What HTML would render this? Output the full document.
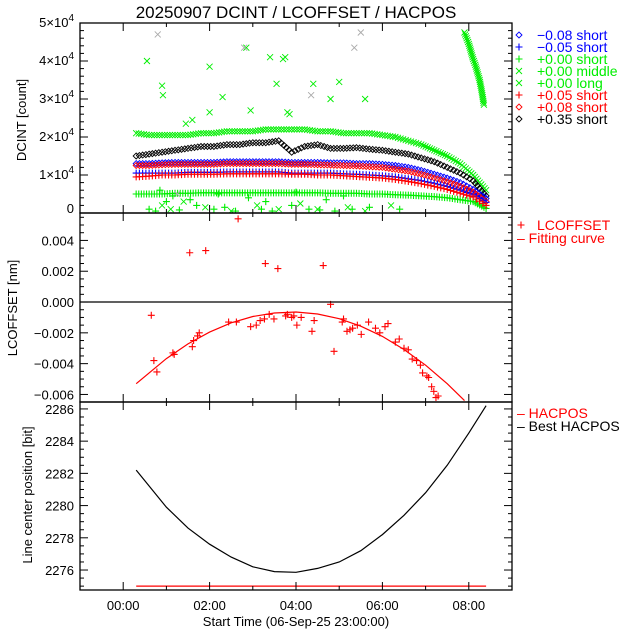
<!DOCTYPE html>
<html><head><meta charset="utf-8"><style>
html,body{margin:0;padding:0;background:#fff;}
svg{display:block;font-family:"Liberation Sans",sans-serif;}
</style></head><body>
<svg id="chart" width="640" height="640" viewBox="0 0 640 640" xmlns="http://www.w3.org/2000/svg">
<rect width="640" height="640" fill="#fff"/>
<text x="296" y="18" font-size="17" text-anchor="middle">20250907 DCINT / LCOFFSET / HACPOS</text>
<g id="g"></g>
</svg>
<script>
// ---------- data (hours since start; values) ----------
const bandTimes = [0.3,0.6,0.9,1.2,1.5,1.8,2.1,2.4,2.7,3.0,3.3,3.6,3.9,4.2,4.5,4.8,5.1,5.4,5.7,6.0,6.3,6.6,6.9,7.2,7.5,7.8,8.1,8.4];
const greenMiddle = [2.1,2.05,2.05,2.05,2.05,2.1,2.1,2.15,2.15,2.15,2.2,2.2,2.2,2.2,2.15,2.15,2.1,2.1,2.1,2.05,2.0,1.9,1.8,1.65,1.5,1.3,1.0,0.6];
const blackShort = [1.5,1.55,1.6,1.65,1.7,1.75,1.75,1.8,1.8,1.85,1.85,1.9,1.6,1.75,1.8,1.7,1.7,1.72,1.68,1.65,1.6,1.55,1.45,1.35,1.2,1.05,0.85,0.45];
const blueDiamond = [1.3,1.3,1.32,1.33,1.33,1.33,1.33,1.35,1.35,1.35,1.35,1.35,1.33,1.33,1.33,1.32,1.32,1.3,1.3,1.28,1.25,1.2,1.12,1.02,0.92,0.8,0.62,0.38];
const redDiamond = [1.25,1.25,1.27,1.28,1.28,1.28,1.28,1.3,1.3,1.3,1.3,1.3,1.28,1.28,1.27,1.26,1.25,1.24,1.22,1.2,1.15,1.1,1.02,0.92,0.82,0.7,0.55,0.3];
const bluePlus = [1.05,1.05,1.05,1.05,1.07,1.07,1.07,1.08,1.08,1.08,1.08,1.08,1.05,1.05,1.05,1.05,1.03,1.02,1.0,0.98,0.95,0.9,0.85,0.78,0.7,0.6,0.48,0.28];
const redPlus = [0.95,0.97,1.0,1.0,1.02,1.02,1.02,1.03,1.03,1.03,1.03,1.03,1.02,1.02,1.0,1.0,0.98,0.96,0.94,0.92,0.88,0.83,0.77,0.7,0.62,0.52,0.42,0.2];
const greenPlus = [0.5,0.5,0.5,0.52,0.52,0.53,0.53,0.53,0.53,0.53,0.53,0.53,0.53,0.53,0.53,0.52,0.52,0.52,0.5,0.5,0.48,0.47,0.45,0.43,0.4,0.35,0.3,0.12];
const spikeTimes = [7.9,7.95,8.0,8.05,8.1,8.15,8.2,8.25,8.3,8.35];
const spikeValues = [4.75,4.6,4.45,4.25,4.05,3.9,3.7,3.5,3.2,2.85];
const outTimes = [0.55,0.9,0.92,1.45,1.6,2.0,2.0,2.3,2.85,2.95,3.4,3.55,3.7,3.75,3.8,3.85,4.4,4.8,5.0,5.6,0.9,1.1,1.4,1.9,2.5,3.1,3.6,4.1,4.5,5.2,5.6,6.2];
const outValues = [4.0,3.35,3.1,2.35,2.45,3.85,2.65,3.05,4.35,2.7,4.1,3.4,4.05,4.1,2.65,2.6,3.4,3.0,3.45,3.0,0.2,0.1,0.3,0.15,0.05,0.2,0.1,0.25,0.1,0.15,0.05,0.2];
const grayTimes = [0.8,2.8,4.35,5.5,5.35,1.25];
const grayValues = [4.7,4.35,3.1,4.75,4.35,0.5];
const lowTimes = [0.6,0.75,1.0,1.3,1.7,2.1,2.35,2.6,3.2,3.45,3.9,4.3,4.55,4.9,5.3,5.7,6.4,0.85,1.15,1.55,2.2,2.9,3.3,4.0,4.7,5.1];
const lowValues = [0.1,0.05,0.3,0.08,0.2,0.1,0.15,0.05,0.1,0.05,0.2,0.1,0.08,0.05,0.1,0.15,0.1,0.6,0.45,0.35,0.5,0.4,0.3,0.55,0.35,0.45];

const lcTimes = [0.65,0.71,0.78,1.15,1.18,1.54,1.6,1.63,1.72,1.76,1.91,2.44,2.62,2.66,2.95,3.08,3.17,3.27,3.29,3.38,3.49,3.58,3.76,3.8,3.9,3.95,4.02,4.12,4.37,4.42,4.63,4.8,4.88,5.07,5.1,5.18,5.25,5.31,5.42,5.51,5.68,5.84,5.94,6.06,6.13,6.3,6.39,6.5,6.6,6.69,6.79,6.88,6.93,7.03,7.07,7.14,7.19,7.24,7.29];
const lcValues = [-0.00086,-0.0038,-0.00454,-0.0033,-0.0034,0.0032,-0.0029,-0.0025,-0.0022,-0.002,0.00334,-0.0013,-0.0013,0.0054,-0.0016,-0.0015,-0.0012,-0.0011,0.0025,-0.0008,-0.0011,0.00217,-0.0009,-0.0008,-0.001,-0.0009,-0.0015,-0.001,-0.0019,-0.0012,0.00237,-0.00015,-0.0032,-0.0013,-0.0011,-0.0019,-0.0018,-0.0017,-0.0015,-0.0021,-0.0013,-0.0017,-0.002,-0.0016,-0.0014,-0.0026,-0.0024,-0.003,-0.0031,-0.0037,-0.0038,-0.0041,-0.0046,-0.0048,-0.0049,-0.0055,-0.0058,-0.0062,-0.0061];
const fitTimes = [0.3,1.0,1.5,2.0,2.5,3.0,3.5,4.0,4.5,5.0,5.5,6.0,6.5,7.0,7.5,7.9];
const fitValues = [-0.0053,-0.00367,-0.00272,-0.00195,-0.00135,-0.00094,-0.00071,-0.00065,-0.00078,-0.00108,-0.00157,-0.00223,-0.00308,-0.0041,-0.0053,-0.0064];
const hacTimes = [0.3,8.4];
const hacValues = [2275,2275];
const bestTimes = [0.3,1.0,1.5,2.0,2.5,3.0,3.5,4.0,4.5,5.0,5.5,6.0,6.5,7.0,7.5,8.0,8.4];
const bestValues = [2282.2,2279.9,2278.6,2277.6,2276.8,2276.2,2275.9,2275.86,2276.1,2276.5,2277.2,2278.2,2279.4,2280.8,2282.5,2284.5,2286.2];
const xTickLabels = ["00:00","02:00","04:00","06:00","08:00"];
const topTickLabels = ["0","1","2","3","4","5"];
const midTickLabels = ["0.004","0.002","0.000","\u22120.002","\u22120.004","\u22120.006"];
const botTickLabels = ["2276","2278","2280","2282","2284","2286"];

// ---------- layout ----------
const NS="http://www.w3.org/2000/svg";
const g=document.getElementById('g');
const L=80,R=512;
const P1={t:23,b:213,min:0,max:5},P2={t:213,b:402,min:-0.00649,max:0.00578},P3={t:402,b:590,min:2274.76,max:2286.43};
const xS=h=>L+(h+1)/10*(R-L);
const yS=(P,v)=>P.b-(v-P.min)/(P.max-P.min)*(P.b-P.t);
function el(tag,attrs,parent){const e=document.createElementNS(NS,tag);for(const k in attrs)e.setAttribute(k,attrs[k]);(parent||g).appendChild(e);return e;}

function marker(type,x,y,color,parent){
  let e;
  if(type==='d'){e=el('path',{d:`M${x} ${y-3}L${x+3} ${y}L${x} ${y+3}L${x-3} ${y}Z`,fill:'none',stroke:color,'stroke-width':0.9},parent);}
  else if(type==='p'){e=el('path',{d:`M${x-3.5} ${y}H${x+3.5}M${x} ${y-3.5}V${y+3.5}`,fill:'none',stroke:color,'stroke-width':1.1},parent);}
  else {e=el('path',{d:`M${x-3} ${y-3}L${x+3} ${y+3}M${x+3} ${y-3}L${x-3} ${y+3}`,fill:'none',stroke:color,'stroke-width':0.9},parent);}
  return e;
}
function clipPanel(id,P){const cp=el('clipPath',{id:id});el('rect',{x:L,y:P.t,width:R-L,height:P.b-P.t},cp);}
clipPanel('c1',P1);clipPanel('c2',P2);clipPanel('c3',P3);

function band(name,times,vals,type,color,step){
  const grp=el('g',{'clip-path':'url(#c1)'});
  
  
  for(let i=0;i<times.length-1;i++){
    const x0=xS(times[i]),y0=yS(P1,vals[i]),x1=xS(times[i+1]),y1=yS(P1,vals[i+1]);
    const n=Math.max(1,Math.round(Math.hypot(x1-x0,y1-y0)/step));
    for(let k=0;k<n;k++){const f=k/n;marker(type,x0+(x1-x0)*f,y0+(y1-y0)*f,color,grp);}
  }
  marker(type,xS(times[times.length-1]),yS(P1,vals[vals.length-1]),color,grp);
}
function scatter(name,P,clip,times,vals,type,color){
  const grp=el('g',{'clip-path':`url(#${clip})`});
  
  
  for(let i=0;i<times.length;i++)marker(type,xS(times[i]),yS(P,vals[i]),color,grp);
}
function line(name,P,clip,times,vals,color){
  const pts=times.map((t,i)=>xS(t).toFixed(1)+','+yS(P,vals[i]).toFixed(1)).join(' ');
  const e=el('polyline',{points:pts,fill:'none',stroke:color,'stroke-width':1.2,'clip-path':`url(#${clip})`});
  
  
}

band('series-green-middle',bandTimes,greenMiddle,'x','#00ee00',2.5);
band('series-green-short',bandTimes,greenPlus,'p','#00ee00',2.5);
band('series-black-short',bandTimes,blackShort,'d','#000',3.5);
band('series-blue-diamond',bandTimes,blueDiamond,'d','#0000ff',3.5);
band('series-red-diamond',bandTimes,redDiamond,'d','#ff0000',3.5);
band('series-blue-plus',bandTimes,bluePlus,'p','#0000ff',3.5);
band('series-red-plus',bandTimes,redPlus,'p','#ff0000',3.5);
band('series-green-long-spike',spikeTimes,spikeValues,'x','#00ee00',2);
scatter('green-outliers',P1,'c1',outTimes,outValues,'x','#00ee00');
scatter('gray-outliers',P1,'c1',grayTimes,grayValues,'x','#aaaaaa');
scatter('low-outliers',P1,'c1',lowTimes,lowValues,'p','#00ee00');

scatter('lcoffset-points',P2,'c2',lcTimes,lcValues,'p','#ff0000');
line('fitting-curve',P2,'c2',fitTimes,fitValues,'#ff0000');
const zl=el('line',{x1:L,x2:R,y1:yS(P2,0),y2:yS(P2,0),stroke:'#000','stroke-width':1.2});



line('hacpos-line',P3,'c3',hacTimes,hacValues,'#ff0000');
line('best-hacpos-line',P3,'c3',bestTimes,bestValues,'#000');

function frame(name,P){
  const r=el('rect',{x:L,y:P.t,width:R-L,height:P.b-P.t,fill:'none',stroke:'#000','stroke-width':1.3});
  
  
  for(let h=-1;h<=9;h++){
    const x=xS(h),len=(h%2===0)?8:4;
    el('line',{x1:x,x2:x,y1:P.b,y2:P.b-len,stroke:'#000'});
    el('line',{x1:x,x2:x,y1:P.t,y2:P.t+len,stroke:'#000'});
  }
}
function yticks(P,majors,sub){
  for(let i=0;i<majors.length;i++){
    const v=majors[i];
    for(let s=0;s<sub;s++){
      const vv=v+s*(majors[1]-majors[0])/sub,y=yS(P,vv);
      if(y<P.t-0.5||y>P.b+0.5)continue;
      const len=s===0?8:4;
      el('line',{x1:L,x2:L+len,y1:y,y2:y,stroke:'#000'});
      el('line',{x1:R,x2:R-len,y1:y,y2:y,stroke:'#000'});
    }
  }
  const st=(majors[1]-majors[0])/sub;
  for(let s=1;s<sub;s++){const y=yS(P,majors[0]-s*st);if(y<=P.b){el('line',{x1:L,x2:L+4,y1:y,y2:y,stroke:'#000'});el('line',{x1:R,x2:R-4,y1:y,y2:y,stroke:'#000'});}}
}
frame('top-panel-frame',P1);frame('middle-panel-frame',P2);frame('bottom-panel-frame',P3);
yticks(P1,[0,1,2,3,4,5],5);
yticks(P2,[-0.006,-0.004,-0.002,0,0.002,0.004],4);
yticks(P3,[2276,2278,2280,2282,2284,2286],4);

function text(name,x,y,str,opts){
  const e=el('text',Object.assign({x:x,y:y,'font-size':13},opts||{}));
  e.textContent=str;
  
  
  return e;
}
topTickLabels.forEach((lab,i)=>{
  const y=yS(P1,i);
  if(lab==="0"){text('top-y-tick-0',74,y,'0',{'text-anchor':'end'});}
  else{
    const e=text('top-y-tick-'+lab,74,y+4,'',{'text-anchor':'end'});
    const a=document.createElementNS(NS,'tspan');a.textContent=lab+'\u00d710';e.appendChild(a);
    const b=document.createElementNS(NS,'tspan');b.textContent='4';b.setAttribute('dy','-6');b.setAttribute('font-size','10');e.appendChild(b);
  }
});
const midVals=[0.004,0.002,0,-0.002,-0.004,-0.006];
midTickLabels.forEach((lab,i)=>text('mid-y-tick',74,yS(P2,midVals[i])+5,lab,{'text-anchor':'end'}));
const botVals=[2276,2278,2280,2282,2284,2286];
botTickLabels.forEach((lab,i)=>text('bottom-y-tick',74,yS(P3,botVals[i])+5,lab,{'text-anchor':'end'}));
xTickLabels.forEach((lab,i)=>text('x-tick-label',xS(i*2),610,lab,{'text-anchor':'middle'}));
text('x-axis-title',296,626,'Start Time (06-Sep-25 23:00:00)',{'text-anchor':'middle'});
text('top-y-axis-title',0,0,'DCINT [count]',{'text-anchor':'middle',transform:'translate(26,120) rotate(-90)'});
text('middle-y-axis-title',0,0,'LCOFFSET [nm]',{'text-anchor':'middle',transform:'translate(17,308) rotate(-90)'});
text('bottom-y-axis-title',0,0,'Line center position [bit]',{'text-anchor':'middle',transform:'translate(32,495) rotate(-90)'});

const legTypes=['d','p','p','x','x','p','d','d'];
const legColors=['#0000ff','#0000ff','#00ee00','#00ee00','#00ee00','#ff0000','#ff0000','#000'];
const legLabels=['\u22120.08 short','\u22120.05 short','+0.00 short','+0.00 middle','+0.00 long','+0.05 short','+0.08 short','+0.35 short'];
legLabels.forEach((lab,i)=>{
  const y=35+i*12;
  const m=marker(legTypes[i],519,y,legColors[i]);
  
  
  text('legend-entry',537,y+5,lab,{fill:legColors[i],'font-size':14});
});
const lm=marker('p',521,225,'#ff0000');


text('legend-lcoffset',537,230,'LCOFFSET',{fill:'#ff0000','font-size':14});
text('legend-fitting-curve',517,243,'\u2013  Fitting curve',{fill:'#ff0000','font-size':14});
text('legend-hacpos',517,418,'\u2013  HACPOS',{fill:'#ff0000','font-size':14});
text('legend-best-hacpos',517,431,'\u2013  Best HACPOS',{fill:'#000','font-size':14});
</script>
</body></html>
